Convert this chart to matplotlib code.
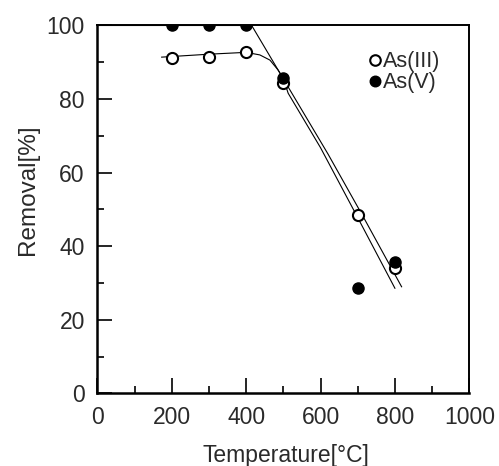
import matplotlib
matplotlib.use("Agg")
import matplotlib.pyplot as plt
from matplotlib.ticker import MultipleLocator

plt.rcParams["font.family"] = ["Liberation Sans", "DejaVu Sans"]

# measured points
temp = [200, 300, 400, 500, 700, 800]
as3 = [91.1, 91.4, 92.7, 84.3, 48.5, 34.0]
as5 = [100.0, 100.0, 100.0, 85.8, 28.6, 35.8]

# hand-drawn fit curves
fit3_t = [173, 300, 400, 437, 464, 486, 500, 513, 600, 700, 800]
fit3_v = [91.4, 92.2, 92.7, 92.0, 90.6, 87.9, 85.6, 81.6, 66.8, 47.8, 28.6]
fit5_t = [0, 415, 523, 620, 715, 818]
fit5_v = [100.0, 100.0, 81.6, 65.1, 48.0, 29.0]

TXT = "#2a2a2a"

fig = plt.figure(figsize=(4.99, 4.66), dpi=100)
ax = fig.add_axes([0.195, 0.1556, 0.7455, 0.7897])

ax.plot(fit3_t, fit3_v, color="black", lw=0.8, zorder=2)
ax.plot(fit5_t, fit5_v, color="black", lw=0.8, zorder=2)
ax.plot(temp, as3, "o", mfc="white", mec="black", mew=1.5, ms=8,
        ls="none", label="As(III)", zorder=3)
ax.plot(temp, as5, "o", mfc="black", mec="black", mew=1.0, ms=8,
        ls="none", label="As(V)", zorder=4)

ax.set_xlim(0, 1000)
ax.set_ylim(0, 100)
ax.xaxis.set_major_locator(MultipleLocator(200))
ax.xaxis.set_minor_locator(MultipleLocator(100))
ax.yaxis.set_major_locator(MultipleLocator(20))
ax.yaxis.set_minor_locator(MultipleLocator(10))
ax.tick_params(which="both", direction="in", top=False, right=False,
               labelsize=16.5, labelcolor=TXT, width=1.2, pad=9)
ax.tick_params(which="major", length=11)
ax.tick_params(which="minor", length=5)
for s in ax.spines.values():
    s.set_linewidth(1.4)
ax.spines["left"].set_linewidth(1.8)
ax.spines["bottom"].set_linewidth(1.8)

ax.set_xlabel("Temperature[\u00b0C]", fontsize=16.5, color=TXT)
ax.xaxis.set_label_coords(0.506, -0.138)
ax.set_ylabel("Removal[%]", fontsize=17.5, color=TXT)
ax.yaxis.set_label_coords(-0.158, 0.553)

leg = ax.legend(loc="upper left", bbox_to_anchor=(0.729, 0.93), frameon=False,
                fontsize=15.5, handlelength=0.6, handletextpad=0.05,
                labelspacing=0.0, borderpad=0.0, borderaxespad=0.0,
                markerscale=0.95)
for t in leg.get_texts():
    t.set_color(TXT)

fig.savefig("out.png", dpi=100, facecolor="white")
